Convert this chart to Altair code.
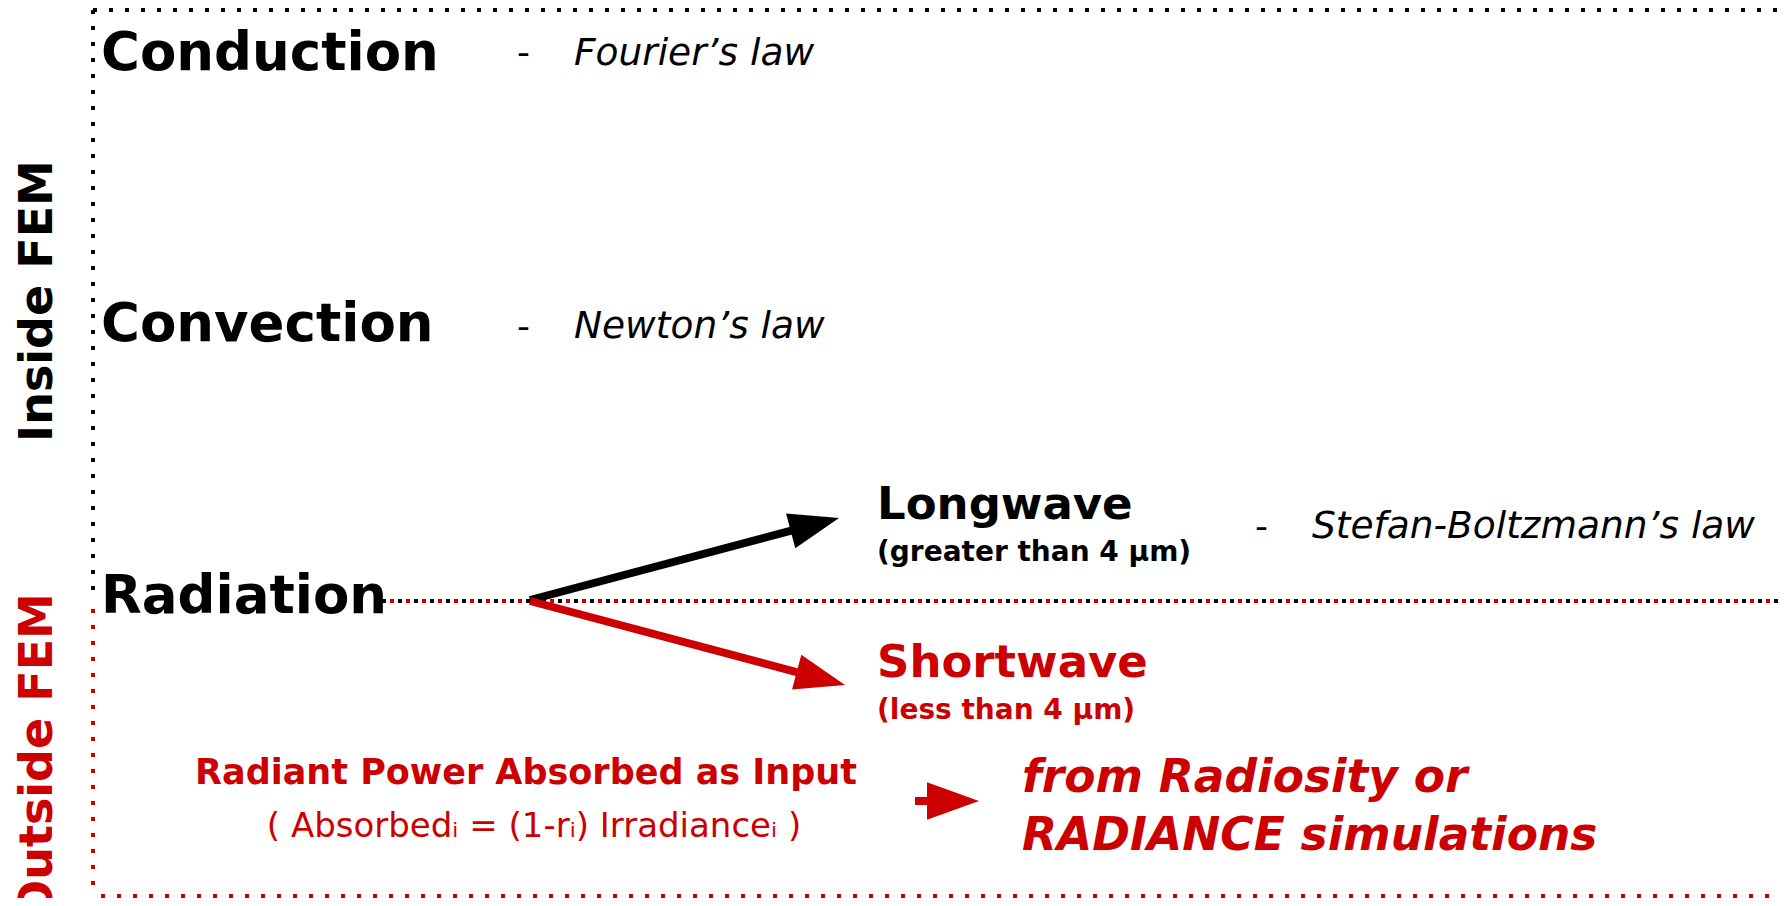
import altair as alt
import pandas as pd
import numpy as np

# ---------------- data (diagram coordinates, y grows downward) ----------------
RED = "#CC0000"
BLACK = "#000000"

# heading words (bold, large)
head_text = ["Conduction", "Convection", "Radiation"]
head_x = [101, 101, 101]
head_y = [70, 341, 613]

# dash separators
dash_text = ["-", "-", "-"]
dash_x = [517, 517, 1255]
dash_y = [64, 338, 538]

# laws (italic)
law_text = ["Fourier\u2019s law", "Newton\u2019s law", "Stefan-Boltzmann\u2019s law"]
law_x = [574, 574, 1312]
law_y = [65, 338, 538]

# wave labels
wave_text = ["Longwave", "Shortwave"]
wave_x = [877, 877]
wave_y = [519, 677]
wave_color = [BLACK, RED]

sub_text = ["(greater than 4 \u00b5m)", "(less than 4 \u00b5m)"]
sub_x = [877, 877]
sub_y = [561, 719]
sub_color = [BLACK, RED]

# bottom left block
rp_text = ["Radiant Power Absorbed as Input"]
rp_x = [526]
rp_y = [784]
formula_text = ["( Absorbed\u1d62 = (1-r\u1d62) Irradiance\u1d62 )"]
formula_x = [534]
formula_y = [837]

src_text = ["from Radiosity or", "RADIANCE simulations"]
src_x = [1022, 1022]
src_y = [792, 850]

side_text = ["Inside FEM", "Outside FEM"]
side_x = [52, 52]
side_y = [301, 756]
side_color = [BLACK, RED]

# arrows: start and tip
arr_x0 = [530, 530]
arr_y0 = [600, 601]
arr_x1 = [839, 845]
arr_y1 = [518, 685]
arr_color = [BLACK, RED]
arr_head = 50

# small input arrow
small_x0, small_x1, small_y = 915, 979, 801

# dotted frame segments
blk_x = [93, 93, 1784, 382]
blk_x2 = [1784, 93, 1784, 1784]
blk_y = [10, 10, 10, 601]
blk_y2 = [10, 601, 601, 601]
red_x = [93, 1784, 93, 382]
red_x2 = [93, 1784, 1784, 1784]
red_y = [601, 601, 896, 601]
red_y2 = [896, 896, 896, 601]

# ---------------- chart ----------------
W, H = 1773, 890
xs = alt.Scale(domain=[8, 8 + W], nice=False, zero=False)
ys = alt.Scale(domain=[8, 8 + H], nice=False, zero=False, reverse=True)


def X(f="x"):
    return alt.X(f"{f}:Q", scale=xs, axis=None)


def Y(f="y"):
    return alt.Y(f"{f}:Q", scale=ys, axis=None)


FONT = "DejaVu Sans"

blk = pd.DataFrame({"x": blk_x, "x2": blk_x2, "y": blk_y, "y2": blk_y2})
red = pd.DataFrame({"x": red_x, "x2": red_x2, "y": red_y, "y2": red_y2})

frame_black = alt.Chart(blk).mark_rule(
    color=BLACK, strokeWidth=4, strokeDash=[4, 12], strokeCap="butt"
).encode(x=X(), x2="x2:Q", y=Y(), y2="y2:Q")
frame_red = alt.Chart(red).mark_rule(
    color=RED, strokeWidth=4, strokeDash=[4, 12], strokeDashOffset=8, strokeCap="butt"
).encode(x=X(), x2="x2:Q", y=Y(), y2="y2:Q")

# arrows
arr = pd.DataFrame({"x0": arr_x0, "y0": arr_y0, "x1": arr_x1, "y1": arr_y1, "c": arr_color})
ang = np.degrees(np.arctan2(arr["y1"] - arr["y0"], arr["x1"] - arr["x0"]))
arr["hx"] = arr["x1"] - arr_head / 2 * np.cos(np.radians(ang))
arr["hy"] = arr["y1"] - arr_head / 2 * np.sin(np.radians(ang))
arr["ang"] = np.mod(ang, 360)

shafts = alt.Chart(arr).mark_rule(strokeWidth=8, strokeCap="butt").encode(
    x=X("x0"), y=Y("y0"), x2="hx:Q", y2="hy:Q",
    color=alt.Color("c:N", scale=None),
)
HEAD = "M-1,-0.72L1,0L-1,0.72Z"
heads = alt.Chart(arr).mark_point(
    shape=HEAD, filled=True, opacity=1, size=arr_head ** 2, strokeWidth=0
).encode(
    x=X("hx"), y=Y("hy"),
    color=alt.Color("c:N", scale=None),
    angle=alt.Angle("ang:Q", scale=None),
)

small = pd.DataFrame({"x": [small_x0], "x2": [small_x1 - 40], "y": [small_y],
                      "hx": [small_x1 - 26]})
small_shaft = alt.Chart(small).mark_rule(color=RED, strokeWidth=8, strokeCap="butt").encode(
    x=X(), x2="x2:Q", y=Y()
)
small_head = alt.Chart(small).mark_point(
    shape=HEAD, filled=True, opacity=1, size=52 ** 2, color=RED, strokeWidth=0
).encode(x=X("hx"), y=Y())


def text_layer(texts, xs_, ys_, colors=None, size=20, weight="normal", style="normal",
               align="left", angle=0):
    df = pd.DataFrame({"t": texts, "x": xs_, "y": ys_,
                       "c": colors if colors is not None else [BLACK] * len(texts)})
    return alt.Chart(df).mark_text(
        font=FONT, fontSize=size, fontWeight=weight, fontStyle=style,
        align=align, baseline="alphabetic", angle=angle,
    ).encode(x=X(), y=Y(), text="t:N", color=alt.Color("c:N", scale=None))


layers = [
    frame_black, frame_red,
    shafts, heads, small_shaft, small_head,
    text_layer(head_text, head_x, head_y, size=53, weight="bold"),
    text_layer(dash_text, dash_x, dash_y, size=36, weight="normal"),
    text_layer(law_text, law_x, law_y, size=37.5, style="italic"),
    text_layer(wave_text, wave_x, wave_y, wave_color, size=45, weight="bold"),
    text_layer(sub_text, sub_x, sub_y, sub_color, size=28, weight="bold"),
    text_layer(rp_text, rp_x, rp_y, [RED], size=35, weight="bold", align="center"),
    text_layer(formula_text, formula_x, formula_y, [RED], size=34, align="center"),
    text_layer(src_text, src_x, src_y, [RED, RED], size=45.5, weight="bold", style="italic"),
    text_layer(side_text, side_x, side_y, side_color, size=46, weight="bold",
               align="center", angle=270),
]

chart = alt.layer(*layers).properties(
    width=W, height=H, padding=0, autosize=alt.AutoSizeParams(type="none"),
    background="white",
).configure_view(stroke=None)

chart.save("out.html", embed_options={"renderer": "svg", "actions": False})
